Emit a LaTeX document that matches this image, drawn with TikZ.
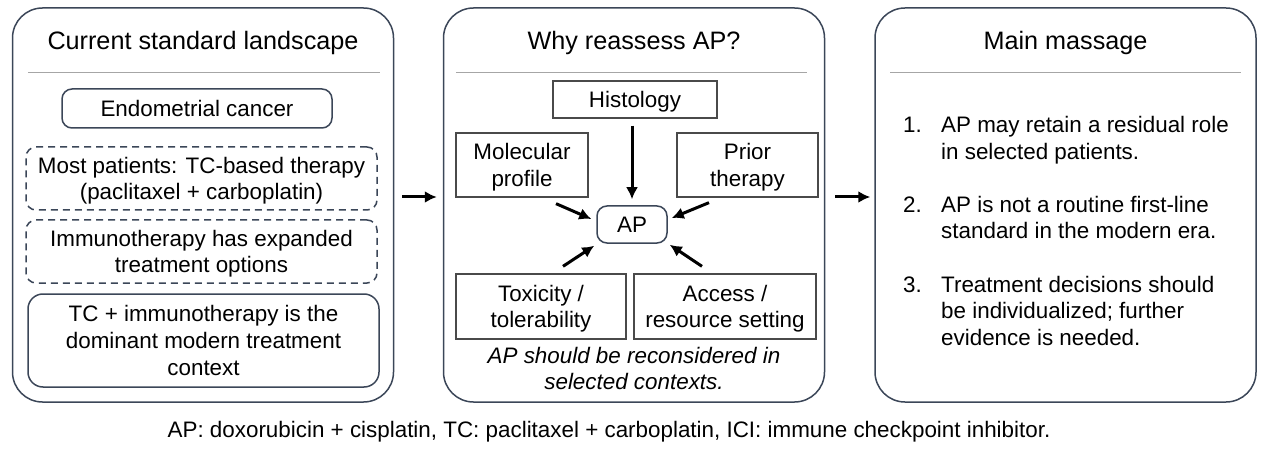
\documentclass[tikz,border=0pt]{standalone}
\usepackage{fontspec}
\setmainfont{Liberation Sans}
\usepackage{tikz}
\usetikzlibrary{shapes,arrows,arrows.meta,calc}
\definecolor{slate}{HTML}{3B4658}
\definecolor{rulegray}{HTML}{A6A6A6}
\definecolor{boxgray}{HTML}{4A4A4A}
\newcommand{\bodyfont}{\fontsize{22.4}{26.7}\selectfont}
\tikzstyle{panel} = [draw=slate, line width=1.5pt, rounded corners=30pt, minimum width=381pt, minimum height=394pt]
\tikzstyle{heading} = [font=\fontsize{25.2}{30}\selectfont, anchor=base]
\tikzstyle{sep} = [draw=rulegray, line width=1pt]
\tikzstyle{rbox} = [draw=slate, line width=1.5pt, rounded corners=10pt, align=center, inner sep=0pt, text depth=0pt]
\tikzstyle{dbox} = [rbox, dash pattern=on 7pt off 5pt]
\tikzstyle{factor} = [draw=boxgray, line width=1.3pt, align=center, inner sep=0pt, text depth=0pt]
\tikzstyle{arr} = [-{Latex[length=12pt,width=12pt]}, line width=3pt]
\tikzstyle{item} = [anchor=base west, inner sep=0pt]

\begin{document}
\begin{tikzpicture}[x=1pt, y=-1pt, font=\bodyfont]
		\useasboundingbox (0,0) rectangle (1266,449);
		
		\node [panel] (left) at (203,205) {};
		\node [panel] (mid) at (634,205) {};
		\node [panel] (right) at (1065.5,205) {};
		
		\node [heading] (lefttitle) at (203,50) {Current standard landscape};
		\node [heading] (midtitle) at (634,50) {Why reassess AP?};
		\node [heading] (righttitle) at (1065.5,50) {Main massage};
		
		\draw [sep] ($(left.north west)+(16,65)$) -- ($(left.north east)+(-14,65)$);
		\draw [sep] ($(mid.north west)+(13,65)$) -- ($(mid.north east)+(-18,65)$);
		\draw [sep] ($(right.north west)+(16,65)$) -- ($(right.north east)+(-16,65)$);
		
		\node [rbox, minimum width=270pt, minimum height=39pt] (endo) at (197,108.5) {Endometrial cancer};
		\node [dbox, minimum width=351pt, minimum height=63pt] (tc) at (201.5,178.5) {Most patients: TC-based therapy\\(paclitaxel + carboplatin)};
		\node [dbox, minimum width=351pt, minimum height=63pt] (immuno) at (201.5,251.5) {Immunotherapy has expanded\\treatment options};
		\node [rbox, rounded corners=15pt, minimum width=351pt, minimum height=93pt] (tcimmuno) at (203.5,340.5) {TC + immunotherapy is the\\dominant modern treatment\\context};
		
		\node [factor, minimum width=164pt, minimum height=37pt] (hist) at (635,99.5) {Histology};
		\node [factor, minimum width=132pt, minimum height=64pt] (mol) at (522,165) {Molecular\\profile};
		\node [factor, minimum width=141pt, minimum height=64pt] (prior) at (747.5,165) {Prior\\therapy};
		\node [rbox, minimum width=70pt, minimum height=37pt] (ap) at (632,224.5) {AP};
		\node [factor, minimum width=170pt, minimum height=65pt] (tox) at (541,306.5) {Toxicity /\\tolerability};
		\node [factor, minimum width=182pt, minimum height=65pt] (access) at (725,306.5) {Access /\\resource setting};
		\node [align=center, inner sep=0pt] (reconsider) at (634,368.5) {\itshape AP should be reconsidered in\\\itshape selected contexts.};
		
		\draw [arr, shorten <=7pt, shorten >=6pt] (ap.north |- hist.south) -- (ap.north);
		\draw [arr] ($(mol.south)+(34,6)$) -- ($(ap.west)+(-5,-5.5)$);
		\draw [arr] ($(prior.south)+(-38.5,5)$) -- ($(ap.east)+(4,-6.5)$);
		\draw [arr] ($(tox.north)+(22,-7)$) -- ($(ap.south west)+(-2,2)$);
		\draw [arr] ($(access.north)+(-23,-7)$) -- ($(ap.south east)+(2,1)$);
		
		\node [item] (m1) at (903,133) {\begin{tabular}[t]{@{}p{38pt}@{}l@{}}1. & AP may retain a residual role\\ & in selected patients.\end{tabular}};
		\node [item] (m2) at (903,212) {\begin{tabular}[t]{@{}p{38pt}@{}l@{}}2. & AP is not a routine first-line\\ & standard in the modern era.\end{tabular}};
		\node [item] (m3) at (903,292) {\begin{tabular}[t]{@{}p{38pt}@{}l@{}}3. & Treatment decisions should\\ & be individualized; further\\ & evidence is needed.\end{tabular}};
		
		\draw [arr, shorten <=8pt, shorten >=6pt] ([yshift=8pt]left.east) -- ([yshift=8pt]mid.west);
		\draw [arr, shorten <=10pt, shorten >=4pt] ([yshift=8pt]mid.east) -- ([yshift=8pt]right.west);
		
		\node [anchor=base] (note) at (609,437) {AP: doxorubicin + cisplatin, TC: paclitaxel + carboplatin, ICI: immune checkpoint inhibitor.};
		
		\end{tikzpicture}
\end{document}
